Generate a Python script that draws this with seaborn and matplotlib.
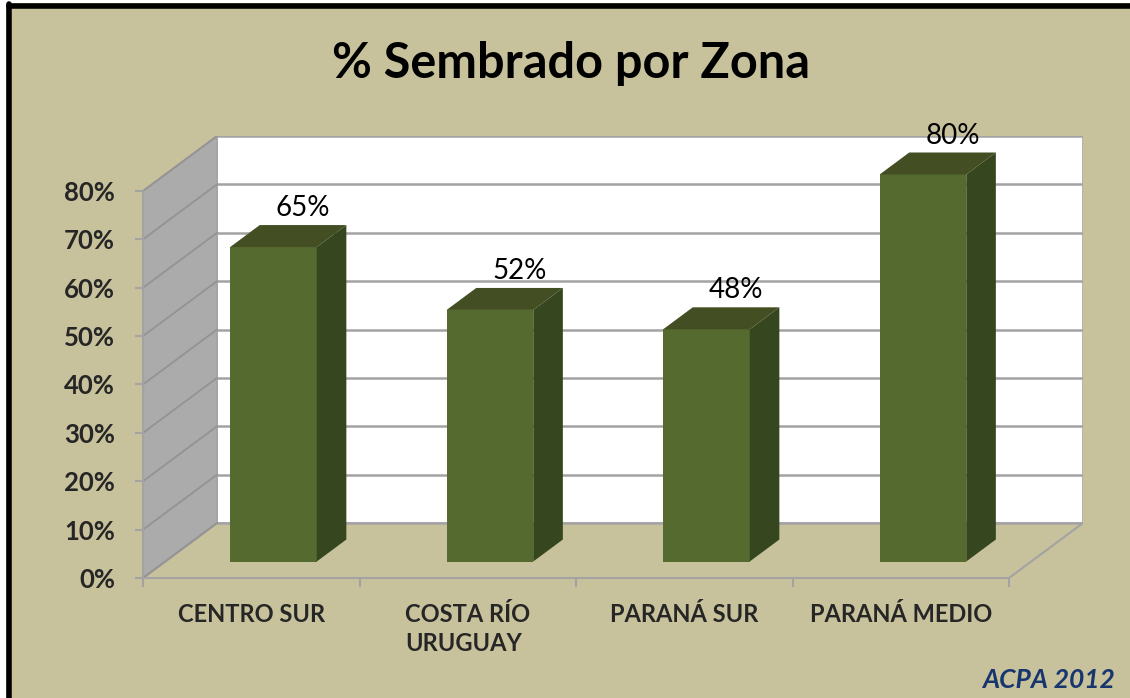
import numpy as np
import pandas as pd
import seaborn as sns
import matplotlib.pyplot as plt
from matplotlib.patches import Polygon, Rectangle
from matplotlib.lines import Line2D

# ----------------------------------------------------------
# DATA
# ----------------------------------------------------------
zones = ["CENTRO SUR", "COSTA RÍO\nURUGUAY", "PARANÁ SUR", "PARANÁ MEDIO"]
pct_sown = [65, 52, 48, 80]
y_ticks = [0, 10, 20, 30, 40, 50, 60, 70, 80]
title = "% Sembrado por Zona"
source = "ACPA 2012"

df = pd.DataFrame({"Zona": zones, "Sembrado": pct_sown})

# ----------------------------------------------------------
# STYLE
# ----------------------------------------------------------
khaki = "#C8C29C"
front_col = "#556A2F"
top_col = "#434F23"
side_col = "#36461E"
wall_gray = "#ABABAB"
grid_gray = "#A3A3A3"

sns.set_style("white")
plt.rcParams["font.family"] = ["Lato", "DejaVu Sans"]

fig = plt.figure(figsize=(11.3, 6.98), dpi=100, facecolor=khaki)
ax = fig.add_axes([143 / 1130, 120 / 698, 940 / 1130, 442 / 698])
ax.set_facecolor("none")

# depth offsets of the pseudo-3D box (data units)
dx = 74 / 216.5
dy = 55 / 4.84
ymax = y_ticks[-1]
n = len(zones)
x0, x1 = -0.5, n - 0.5

# ----------------------------------------------------------
# WALLS
# ----------------------------------------------------------
ax.add_patch(Rectangle((x0 + dx, dy), x1 - x0, ymax, facecolor="white",
                       edgecolor=grid_gray, lw=1.2, zorder=0.2))
ax.add_patch(Polygon([(x0, 0), (x0 + dx, dy), (x0 + dx, ymax + dy), (x0, ymax)],
                     closed=True, facecolor=wall_gray, edgecolor=grid_gray,
                     lw=1.2, zorder=0.2))
# floor edges
ax.plot([x0, x0 + dx], [0, dy], color=grid_gray, lw=1.5, zorder=0.3)
ax.plot([x1, x1 + dx], [0, dy], color=grid_gray, lw=1.5, zorder=0.3)

for v in y_ticks:
    ax.plot([x0 + dx, x1 + dx], [v + dy, v + dy], color=grid_gray, lw=1.8, zorder=0.3)
    ax.plot([x0, x0 + dx], [v, v + dy], color="#939393", lw=1.3, zorder=0.3)

# ----------------------------------------------------------
# BARS
# ----------------------------------------------------------
sns.barplot(data=df, x="Zona", y="Sembrado", width=0.4, color=front_col,
            saturation=1, linewidth=0, ax=ax, zorder=2)

z0, z1 = 0.3, 0.7
for bar, val in zip(ax.containers[0], pct_sown):
    bx, bw, bh = bar.get_x(), bar.get_width(), bar.get_height()
    bar.set_x(bx + z0 * dx)
    bar.set_y(z0 * dy)
    xl, xr = bx + z0 * dx, bx + bw + z0 * dx
    yb, yt = z0 * dy, bh + z0 * dy
    ddx, ddy = (z1 - z0) * dx, (z1 - z0) * dy
    ax.add_patch(Polygon([(xl, yt), (xr, yt), (xr + ddx, yt + ddy), (xl + ddx, yt + ddy)],
                         closed=True, facecolor=top_col, lw=0, zorder=2.1))
    ax.add_patch(Polygon([(xr, yb), (xr + ddx, yb + ddy), (xr + ddx, yt + ddy), (xr, yt)],
                         closed=True, facecolor=side_col, lw=0, zorder=2.1))
    ax.text(bx + bw / 2 + z1 * dx, yt + ddy + 0.8, f"{val}%",
            ha="center", va="bottom", fontsize=20, color="black",
            clip_on=False, zorder=3)

# ----------------------------------------------------------
# AXES
# ----------------------------------------------------------
ax.set_xlim(x0, x1 + dx)
ax.set_ylim(0, ymax + dy)

for s in ["top", "right"]:
    ax.spines[s].set_visible(False)
ax.spines["left"].set_bounds(0, ymax)
ax.spines["bottom"].set_bounds(x0, x1)
for s in ["left", "bottom"]:
    ax.spines[s].set_color(grid_gray)
    ax.spines[s].set_linewidth(1.5)
    ax.spines[s].set_zorder(0.4)

ax.set_yticks(y_ticks)
ax.set_yticklabels([f"{v}%" for v in y_ticks], fontsize=18.5, fontweight="bold")
ax.tick_params(axis="y", direction="out", length=6, width=1.5, color=grid_gray,
               pad=14, left=True)

ax.set_xticks(np.arange(x0, x1 + 1), minor=True)
ax.tick_params(axis="x", which="minor", direction="out", length=6.5, width=1.5,
               color=grid_gray, bottom=True)
ax.tick_params(axis="x", which="major", length=0, pad=18)
for lbl in ax.get_xticklabels():
    lbl.set_fontsize(17)
    lbl.set_fontweight("bold")
    lbl.set_multialignment("left")
    lbl.set_linespacing(1.3)
    lbl.set_verticalalignment("top")

ax.set_xlabel("")
ax.set_ylabel("")

# ----------------------------------------------------------
# TEXT + FRAME
# ----------------------------------------------------------
fig.text(571 / 1130, 1 - 78 / 698, title, ha="center", va="baseline",
         fontsize=35, fontweight="bold", color="black")
fig.text(1115 / 1130, 1 - 688 / 698, source, ha="right", va="baseline",
         fontsize=19, fontweight="bold", style="italic", color="#17366E")

fig.add_artist(Rectangle((0, 1 - 3 / 698), 1, 3 / 698, transform=fig.transFigure,
                         facecolor="white", lw=0))
fig.add_artist(Rectangle((0, 0), 6 / 1130, 1, transform=fig.transFigure,
                         facecolor="white", lw=0))
fig.add_artist(Line2D([8.5 / 1130, 1], [1 - 5.5 / 698, 1 - 5.5 / 698],
                      transform=fig.transFigure, color="black", lw=4))
fig.add_artist(Line2D([8.5 / 1130, 8.5 / 1130], [0, 1 - 3.5 / 698],
                      transform=fig.transFigure, color="black", lw=4))

fig.savefig("out.png", dpi=100, facecolor=khaki)
